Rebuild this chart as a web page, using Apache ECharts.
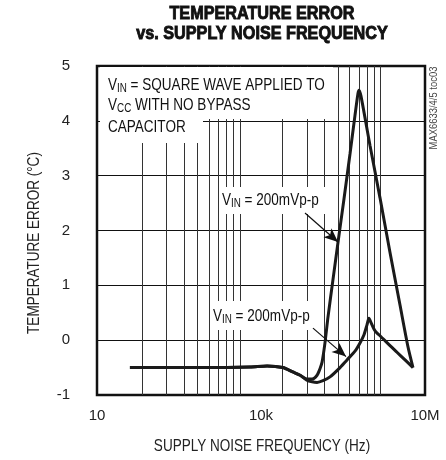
<!DOCTYPE html>
<html>
<head>
<meta charset="utf-8">
<script src="https://cdn.jsdelivr.net/npm/echarts@6/dist/echarts.min.js"></script>
<style>html,body{margin:0;padding:0;background:#fff}#c{width:446px;height:460px}</style>
</head>
<body>
<div id="c"></div>
<script>
// Large-ripple curve (upper V_IN = 200mVp-p)
const freqA = [40, 800, 6300, 12900, 25000, 38000, 52000, 69000, 86000, 106000, 120000, 131000, 148000, 168000, 207000, 256000, 330000, 425000, 524000, 594000, 620000, 675000, 986000, 1500000, 2290000, 3490000, 4880000, 6030000];
const errA  = [-0.5, -0.5, -0.49, -0.47, -0.5, -0.58, -0.64, -0.71, -0.71, -0.64, -0.52, -0.4, -0.05, 0.42, 1.1, 1.78, 2.58, 3.4, 4.1, 4.5, 4.56, 4.45, 3.55, 2.6, 1.6, 0.64, -0.12, -0.5];
// Small-ripple curve (lower V_IN = 200mVp-p)
const freqB = [40, 800, 6300, 12900, 25000, 38000, 52000, 69000, 86000, 106000, 136000, 183000, 279000, 374000, 524000, 647000, 766000, 869000, 944000, 1030000, 1170000, 1320000, 1500000, 2290000, 3070000, 4310000, 6030000];
const errB  = [-0.5, -0.5, -0.49, -0.47, -0.5, -0.58, -0.64, -0.73, -0.76, -0.77, -0.74, -0.67, -0.5, -0.36, -0.2, -0.05, 0.1, 0.28, 0.40, 0.32, 0.2, 0.13, 0.08, -0.10, -0.22, -0.36, -0.5];
// x tick labels by decade exponent
const xTickLabels = {1: '10', 4: '10k', 7: '10M'};
const yTicks = [-1, 0, 1, 2, 3, 4, 5];
// vertical grid lines as drawn on the original (decorative log grid)
const gridTicks = [2, 3, 4, 5, 6, 7, 8, 9, 10, 20, 30, 40, 50, 60, 70, 80, 90, 100];
// arrows: [fromFreq, fromErr, toFreq, toErr]
const arrowUpper = [63800, 2.32, 256000, 1.79];
const arrowLower = [89300, 0.22, 359000, -0.3];

const NF = '"Liberation Sans", Arial, Helvetica, sans-serif';
const SX = 0.82; // horizontal condensing for the narrow typeface look
const chart = echarts.init(document.getElementById('c'), null, {renderer: 'canvas'});

const pairs = (xs, ys) => xs.map((x, i) => [x, ys[i]]);
const richBase = {
  n: {fontSize: 16.5, fontFamily: NF, fill: '#111', color: '#111'},
  s: {fontSize: 12, fontFamily: NF, fill: '#111', color: '#111', padding: [8, 0, 0, 0]}
};
function annot(x, y, text) {
  return {type: 'text', x: x, y: y, z: 60, scaleX: SX, style: {text: text, rich: richBase, textAlign: 'left', textVerticalAlign: 'middle', fill: '#111', font: '16.5px ' + NF}};
}
function box(x, y, w, h) {
  return {type: 'rect', z: 50, shape: {x: x, y: y, width: w, height: h}, style: {fill: '#fff'}};
}

chart.setOption({
  animation: false,
  backgroundColor: '#fff',
  grid: {left: 97, right: 21, top: 66, bottom: 65, show: true, borderColor: '#111', borderWidth: 2.5, backgroundColor: 'transparent'},
  xAxis: [
    {type: 'log', logBase: 10, min: 10, max: 1e7,
     axisLine: {show: false}, axisTick: {show: false}, splitLine: {show: false},
     axisLabel: {margin: 13, fontSize: 15, fontFamily: NF, color: '#222',
       formatter: v => { const e = Math.round(Math.log10(v)); return xTickLabels[e] || ''; }}},
    {type: 'log', logBase: 10, min: 0.96, max: 207, show: false, splitLine: {show: false}}
  ],
  yAxis: {type: 'value', min: yTicks[0], max: yTicks[yTicks.length - 1], interval: 1,
    axisLine: {show: false}, axisTick: {show: false},
    splitLine: {show: true, lineStyle: {color: '#111', width: 1}},
    axisLabel: {margin: 27, fontSize: 15, fontFamily: NF, color: '#222'}},
  series: [
    {type: 'line', xAxisIndex: 1, data: [], z: 1, silent: true,
     markLine: {silent: true, symbol: 'none', animation: false, label: {show: false},
       lineStyle: {color: '#333', width: 1, type: 'solid'},
       data: gridTicks.map(v => ({xAxis: v}))}},
    {type: 'line', data: pairs(freqA, errA), showSymbol: false, smooth: 0.25, z: 5,
     lineStyle: {color: '#1a1a1a', width: 3}},
    {type: 'line', data: pairs(freqB, errB), showSymbol: false, smooth: 0.25, z: 5,
     lineStyle: {color: '#1a1a1a', width: 3},
     markLine: {silent: true, symbol: ['none', 'arrow'], symbolSize: [9, 14], label: {show: false}, z: 70,
       lineStyle: {color: '#111', width: 1.2, type: 'solid'},
       data: [
         [{coord: [arrowUpper[0], arrowUpper[1]]}, {coord: [arrowUpper[2], arrowUpper[3]]}],
         [{coord: [arrowLower[0], arrowLower[1]]}, {coord: [arrowLower[2], arrowLower[3]]}]
       ]}}
  ],
  graphic: [
    box(100, 67, 233, 52),
    box(100, 67, 103, 76),
    box(219, 187, 109, 27),
    box(210, 301, 111, 29),
    annot(108, 85, '{n|V}{s|IN}{n| = SQUARE WAVE APPLIED TO}'),
    annot(108, 105, '{n|V}{s|CC}{n| WITH NO BYPASS}'),
    annot(108, 127, '{n|CAPACITOR}'),
    annot(222, 200, '{n|V}{s|IN}{n| = 200mVp-p}'),
    annot(213, 316, '{n|V}{s|IN}{n| = 200mVp-p}'),
    {type: 'text', x: 262, y: 14, z: 60, scaleX: 0.9, style: {text: 'TEMPERATURE ERROR', font: 'bold 18px ' + NF, textAlign: 'center', textVerticalAlign: 'middle', fill: '#111', stroke: '#111', lineWidth: 0.9}},
    {type: 'text', x: 262, y: 34, z: 60, scaleX: 0.9, style: {text: 'vs. SUPPLY NOISE FREQUENCY', font: 'bold 18px ' + NF, textAlign: 'center', textVerticalAlign: 'middle', fill: '#111', stroke: '#111', lineWidth: 0.9}},
    {type: 'text', x: 34, y: 243, rotation: Math.PI / 2, scaleX: SX, z: 60, style: {text: 'TEMPERATURE ERROR (°C)', font: '16.5px ' + NF, textAlign: 'center', textVerticalAlign: 'middle', fill: '#222'}},
    {type: 'text', x: 262, y: 446, scaleX: SX, z: 60, style: {text: 'SUPPLY NOISE FREQUENCY (Hz)', font: '16.5px ' + NF, textAlign: 'center', textVerticalAlign: 'middle', fill: '#222'}},
    {type: 'text', x: 434, y: 108, rotation: Math.PI / 2, scaleX: SX, z: 60, style: {text: 'MAX6633/4/5 toc03', font: '11.5px ' + NF, textAlign: 'center', textVerticalAlign: 'middle', fill: '#444'}}
  ]
});
</script>
</body>
</html>
